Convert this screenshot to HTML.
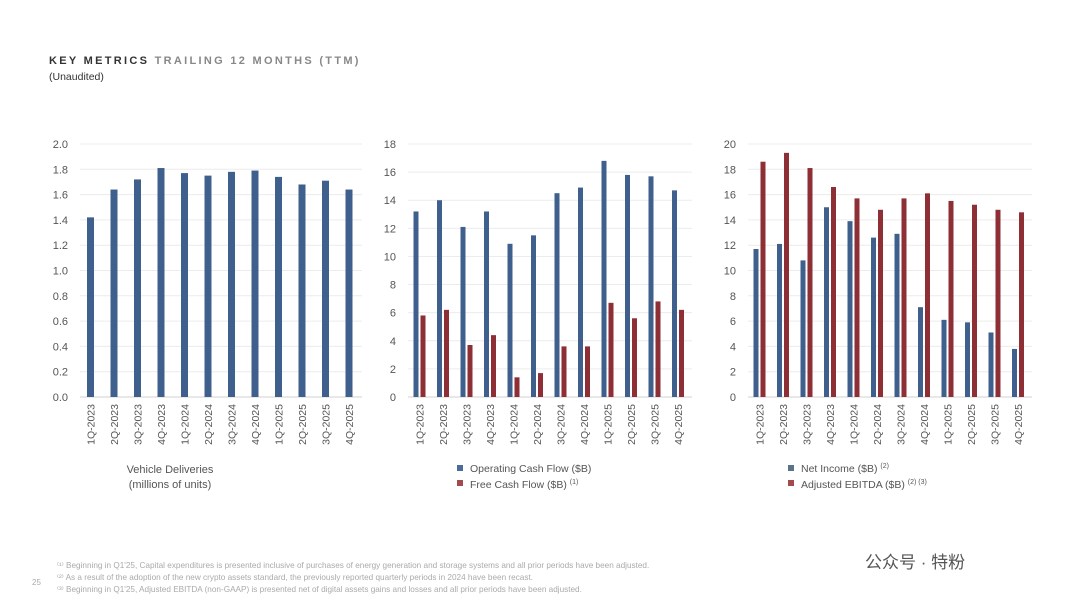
<!DOCTYPE html>
<html><head><meta charset="utf-8"><style>
body{margin:0;width:1080px;height:608px;background:#fff;overflow:hidden;font-family:"Liberation Sans","Noto Sans CJK SC",sans-serif;}
svg{position:absolute;left:0;top:0}
</style></head><body>
<svg id="s" width="1080" height="608">
<text x="49" y="64" font-size="11" font-weight="bold" letter-spacing="2.3" fill="#333">KEY METRICS <tspan fill="#888">TRAILING 12 MONTHS (TTM)</tspan></text>
<text x="49" y="80" font-size="10.5" fill="#333">(Unaudited)</text>
<text x="170" y="473" font-size="11" fill="#555" text-anchor="middle">Vehicle Deliveries</text>
<text x="170" y="488" font-size="11" fill="#555" text-anchor="middle">(millions of units)</text>
<g><rect x="457" y="465" width="6" height="6" fill="#4a6c9b"/><text x="470" y="472" font-size="10.5" fill="#555">Operating Cash Flow ($B)</text></g>
<g><rect x="457" y="480" width="6" height="6" fill="#a34a4f"/><text x="470" y="488" font-size="10.5" fill="#555">Free Cash Flow ($B) <tspan font-size="7" dy="-4">(1)</tspan></text></g>
<g><rect x="788" y="465" width="6" height="6" fill="#5b7388"/><text x="801" y="472" font-size="10.5" fill="#555">Net Income ($B) <tspan font-size="7" dy="-4">(2)</tspan></text></g>
<g><rect x="788" y="480" width="6" height="6" fill="#a34a4f"/><text x="801" y="488" font-size="10.5" fill="#555">Adjusted EBITDA ($B) <tspan font-size="7" dy="-4">(2) (3)</tspan></text></g>
<g fill="#aaa" font-size="8.2">
<text x="57" y="568">⁽¹⁾ Beginning in Q1'25, Capital expenditures is presented inclusive of purchases of energy generation and storage systems and all prior periods have been adjusted.</text>
<text x="57" y="580">⁽²⁾ As a result of the adoption of the new crypto assets standard, the previously reported quarterly periods in 2024 have been recast.</text>
<text x="57" y="592">⁽³⁾ Beginning in Q1'25, Adjusted EBITDA (non-GAAP) is presented net of digital assets gains and losses and all prior periods have been adjusted.</text>
<text x="32" y="585" font-size="8">25</text>
</g>
<text x="865" y="568" font-size="17" fill="#555">公众号 · 特粉</text>
</svg>
<script>
const categories=["1Q-2023","2Q-2023","3Q-2023","4Q-2023","1Q-2024","2Q-2024","3Q-2024","4Q-2024","1Q-2025","2Q-2025","3Q-2025","4Q-2025"];
const deliveries=[1.42,1.64,1.72,1.81,1.77,1.75,1.78,1.79,1.74,1.68,1.71,1.64];
const deliveryTicks=["0.0","0.2","0.4","0.6","0.8","1.0","1.2","1.4","1.6","1.8","2.0"];
const ocf=[13.2,14.0,12.1,13.2,10.9,11.5,14.5,14.9,16.8,15.8,15.7,14.7];
const fcf=[5.8,6.2,3.7,4.4,1.4,1.7,3.6,3.6,6.7,5.6,6.8,6.2];
const cashTicks=["0","2","4","6","8","10","12","14","16","18"];
const netIncome=[11.7,12.1,10.8,15.0,13.9,12.6,12.9,7.1,6.1,5.9,5.1,3.8];
const ebitda=[18.6,19.3,18.1,16.6,15.7,14.8,15.7,16.1,15.5,15.2,14.8,14.6];
const earnTicks=["0","2","4","6","8","10","12","14","16","18","20"];
const NS="http://www.w3.org/2000/svg",s=document.getElementById('s');
function el(t,a,p){const e=document.createElementNS(NS,t);for(const k in a)e.setAttribute(k,a[k]);(p||s).appendChild(e);return e;}
function chart(name,x0,x1,first,max,ticks,series,colors,bw,offs){
  const g=el('g',{});
  
  
  const y=v=>397-v/max*253, cx=i=>first+i*23.5;
  ticks.forEach(t=>{const v=parseFloat(t);
    const l=el('line',{x1:x0,x2:x1,y1:y(v),y2:y(v),stroke:v==0?'#d0d0d0':'#ececec','stroke-width':1},g);
    
    
    const tx=el('text',{x:x0-12,y:y(v)+4,'font-size':11,fill:'#555','text-anchor':'end'},g);tx.textContent=t;
    
    });
  categories.forEach((c,i)=>{
    series.forEach((ser,k)=>{const r=el('rect',{x:cx(i)+offs[k]-bw/2,y:y(ser[i]),width:bw,height:397-y(ser[i]),fill:colors[k]},g);
      
      });
    const mx=cx(i)+(offs[0]+offs[offs.length-1])/2+4;
    const t=el('text',{x:mx,y:404,'font-size':10.5,fill:'#555','text-anchor':'end',transform:`rotate(-90 ${mx} 404)`},g);t.textContent=c;
    
    });
}
chart('deliveries-chart',80,362,90.5,2.0,deliveryTicks,[deliveries],['#3f5f8c'],7,[0]);
chart('cash-flow-chart',408,692,416,18,cashTicks,[ocf,fcf],['#3f5f8c','#8e2f35'],5,[0,7]);
chart('earnings-chart',748,1032,756,20,earnTicks,[netIncome,ebitda],['#3f5f8c','#8e2f35'],5,[0,7]);
</script>
</body></html>
